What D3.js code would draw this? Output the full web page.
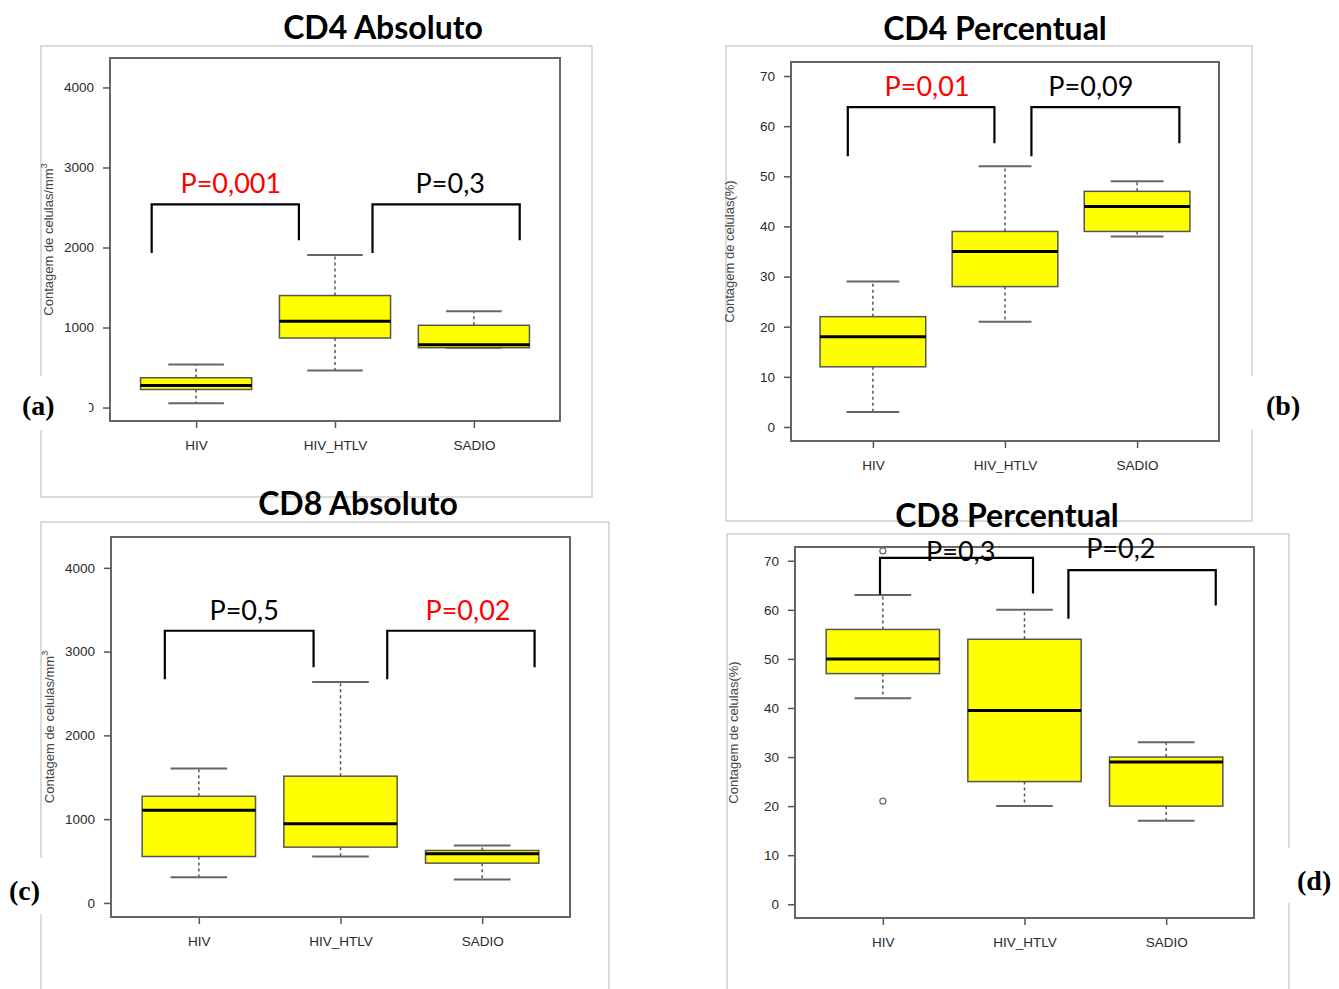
<!DOCTYPE html>
<html>
<head>
<meta charset="utf-8">
<title>CD4 / CD8 boxplots</title>
<script src="https://cdn.jsdelivr.net/npm/d3@7"></script>
<style>
body { margin: 0; background: #ffffff; }
svg { display: block; }
.tick text { font-family: "Liberation Sans", Arial, sans-serif; font-size: 13.5px; fill: #2a2a2a; }
.tick line { stroke: #555555; stroke-width: 1.5px; }
.frame { fill: none; stroke: #cfcfcf; stroke-width: 1.5px; }
.plotbox { fill: none; stroke: #666666; stroke-width: 2px; }
.title { font-family: Lato, "Open Sans", sans-serif; font-weight: bold; font-size: 32px; text-anchor: middle; fill: #000; }
.pval { font-family: Lato, "Open Sans", sans-serif; font-size: 27px; text-anchor: middle; }
.ylab { font-family: "Liberation Sans", Arial, sans-serif; font-size: 13px; fill: #444444; text-anchor: middle; }
.plabel { font-family: "Liberation Serif", "Times New Roman", serif; font-weight: bold; font-size: 28px; fill: #000; }
</style>
</head>
<body>
<svg id="fig" width="1339" height="989"></svg>
<script>
var groups = ["HIV", "HIV_HTLV", "SADIO"];
var absTicks = [0, 1000, 2000, 3000, 4000];
var pctTicks = [0, 10, 20, 30, 40, 50, 60, 70];

// [min, q1, mediana, q3, max] for each group
var cd4Abs = [[54, 226, 276, 372, 539], [464, 869, 1078, 1400, 1906], [748, 748, 786, 1028, 1204]];
var cd4Pct = [[3, 12, 18, 22, 29], [21, 28, 35, 39, 52], [38, 39, 44, 47, 49]];
var cd8Abs = [[307, 554, 1105, 1273, 1605], [554, 666, 946, 1513, 2638], [279, 475, 587, 626, 686]];
var cd8Pct = [[42, 47, 50, 56, 63], [20, 25, 39.5, 54, 60], [17, 20, 29, 30, 33]];
var cd8PctOut = [[72, 21], [], []];

var cd4AbsP = ["P=0,001", "P=0,3"];
var cd4PctP = ["P=0,01", "P=0,09"];
var cd8AbsP = ["P=0,5", "P=0,02"];
var cd8PctP = ["P=0,3", "P=0,2"];
var cd4AbsSig = [true, false];
var cd4PctSig = [true, false];
var cd8AbsSig = [false, true];
var cd8PctSig = [false, false];

var svg = d3.select("#fig");

// layout of the four panels (pixels) + brackets in data units [x1, x2, yTop, yLeftEnd, yRightEnd]
var panels = [
  { title: "CD4 Absoluto", tx: 383, ty: 39, label: "(a)", lx: 22, ly: 415, lbox: [0, 376, 89, 54],
    frame: [41, 46, 551, 451], plot: [110, 58, 560, 421], ydom: [-168, 4368], ticks: absTicks,
    ylab: "Contagem de celulas/mm", sup: "3", stats: cd4Abs, out: null, p: cd4AbsP, sig: cd4AbsSig,
    br: [[0.68, 1.74, 2538, 1931, 2090], [2.27, 3.33, 2538, 1931, 2090]],
    pt: [[1.25, 2680], [2.83, 2680]] },
  { title: "CD4 Percentual", tx: 995, ty: 40, label: "(b)", lx: 1266, ly: 415, lbox: [1246, 376, 93, 54],
    frame: [726, 46, 526, 475], plot: [791, 62, 1219, 441], ydom: [-2.8, 72.8], ticks: pctTicks,
    ylab: "Contagem de celulas(%)", sup: "", stats: cd4Pct, out: null, p: cd4PctP, sig: cd4PctSig,
    br: [[0.81, 1.92, 63.8, 54.0, 56.6], [2.20, 3.32, 63.8, 54.0, 56.6]],
    pt: [[1.41, 66.1], [2.65, 66.1]] },
  { title: "CD8 Absoluto", tx: 358, ty: 515, label: "(c)", lx: 9, ly: 900, lbox: [0, 858, 77, 56],
    frame: [41, 522, 568, 480], plot: [111, 537, 570, 917], ydom: [-168, 4368], ticks: absTicks,
    ylab: "Contagem de celulas/mm", sup: "3", stats: cd8Abs, out: null, p: cd8AbsP, sig: cd8AbsSig,
    br: [[0.76, 1.81, 3249, 2671, 2814], [2.33, 3.37, 3249, 2671, 2814]],
    pt: [[1.32, 3381], [2.90, 3381]] },
  { title: "CD8 Percentual", tx: 1007, ty: 527, label: "(d)", lx: 1297, ly: 890, lbox: [1279, 848, 60, 55],
    frame: [727, 534, 562, 470], plot: [795, 547, 1254, 918], ydom: [-2.8, 72.8], ticks: pctTicks,
    ylab: "Contagem de celulas(%)", sup: "", stats: cd8Pct, out: cd8PctOut, p: cd8PctP, sig: cd8PctSig,
    br: [[0.98, 2.06, 70.6, 63.1, 63.3], [2.31, 3.35, 68.1, 58.2, 60.9]],
    pt: [[1.55, 69.9], [2.68, 70.5]] }
];

panels.forEach(function (P) {
  svg.append("rect").attr("class", "frame")
    .attr("x", P.frame[0]).attr("y", P.frame[1])
    .attr("width", P.frame[2]).attr("height", P.frame[3]);
});

panels.forEach(function (P) {
  var x = d3.scaleLinear().domain([0.38, 3.62]).range([P.plot[0], P.plot[2]]);
  var y = d3.scaleLinear().domain(P.ydom).range([P.plot[3], P.plot[1]]);
  var g = svg.append("g");

  // y axis
  var ya = g.append("g").attr("transform", "translate(" + P.plot[0] + ",0)")
    .call(d3.axisLeft(y).tickValues(P.ticks).tickSize(7).tickPadding(9).tickFormat(d3.format("d")));
  ya.select(".domain").remove();

  // x axis
  var xa = g.append("g").attr("transform", "translate(0," + P.plot[3] + ")")
    .call(d3.axisBottom(x).tickValues([1, 2, 3]).tickSize(7).tickPadding(12)
      .tickFormat(function (d) { return groups[d - 1]; }));
  xa.select(".domain").remove();

  // y label
  var yl = g.append("text").attr("class", "ylab")
    .attr("transform", "translate(" + (P.plot[0] - 57) + "," + ((P.plot[1] + P.plot[3]) / 2) + ") rotate(-90)")
    .text(P.ylab);
  if (P.sup) {
    yl.append("tspan").attr("font-size", "9px").attr("dy", "-6").text(P.sup);
  }

  // boxes
  var bx = g.selectAll("g.box").data(P.stats).enter().append("g").attr("class", "box");
  bx.each(function (d, i) {
    var s = d3.select(this);
    var c = i + 1;
    s.append("line").attr("x1", x(c)).attr("x2", x(c)).attr("y1", y(d[3])).attr("y2", y(d[4]))
      .style("stroke", "#555").style("stroke-width", "1.5px").style("stroke-dasharray", "3,3");
    s.append("line").attr("x1", x(c)).attr("x2", x(c)).attr("y1", y(d[1])).attr("y2", y(d[0]))
      .style("stroke", "#555").style("stroke-width", "1.5px").style("stroke-dasharray", "3,3");
    [d[0], d[4]].forEach(function (v) {
      s.append("line").attr("x1", x(c - 0.2)).attr("x2", x(c + 0.2)).attr("y1", y(v)).attr("y2", y(v))
        .style("stroke", "#666").style("stroke-width", "2px");
    });
    s.append("rect").attr("x", x(c - 0.4)).attr("width", x(c + 0.4) - x(c - 0.4))
      .attr("y", y(d[3])).attr("height", y(d[1]) - y(d[3]))
      .style("fill", "#ffff00").style("stroke", "#555").style("stroke-width", "1.5px");
    s.append("line").attr("x1", x(c - 0.4)).attr("x2", x(c + 0.4)).attr("y1", y(d[2])).attr("y2", y(d[2]))
      .style("stroke", "#000").style("stroke-width", "3px");
  });

  if (P.out) {
    P.out.forEach(function (vals, i) {
      g.selectAll(null).data(vals).enter().append("circle")
        .attr("cx", x(i + 1)).attr("cy", function (v) { return y(v); }).attr("r", 3)
        .style("fill", "none").style("stroke", "#666").style("stroke-width", "1.2px");
    });
  }

  // plot box
  g.append("rect").attr("class", "plotbox")
    .attr("x", P.plot[0]).attr("y", P.plot[1])
    .attr("width", P.plot[2] - P.plot[0]).attr("height", P.plot[3] - P.plot[1]);

  // brackets
  g.selectAll("path.br").data(P.br).enter().append("path").attr("class", "br")
    .attr("d", function (b) {
      return "M" + x(b[0]) + "," + y(b[3]) + "V" + y(b[2]) + "H" + x(b[1]) + "V" + y(b[4]);
    })
    .style("fill", "none").style("stroke", "#000").style("stroke-width", "2.2px");

  g.selectAll("text.pval").data(P.p).enter().append("text").attr("class", "pval")
    .attr("x", function (d, i) { return x(P.pt[i][0]); })
    .attr("y", function (d, i) { return y(P.pt[i][1]); })
    .style("fill", function (d, i) { return P.sig[i] ? "#ff0000" : "#000"; })
    .text(function (d) { return d; });
});

// titles and panel letters on top
panels.forEach(function (P) {
  svg.append("text").attr("class", "title").attr("x", P.tx).attr("y", P.ty).text(P.title);
  svg.append("rect").attr("x", P.lbox[0]).attr("y", P.lbox[1])
    .attr("width", P.lbox[2]).attr("height", P.lbox[3]).style("fill", "#fff");
  svg.append("text").attr("class", "plabel").attr("x", P.lx).attr("y", P.ly).text(P.label);
});
</script>
</body>
</html>
